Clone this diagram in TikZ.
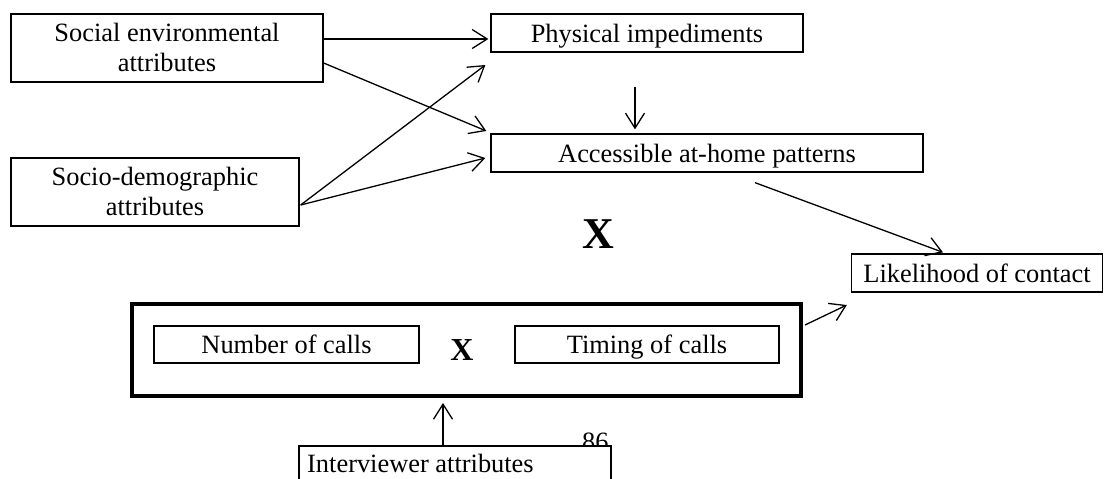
\documentclass[tikz,border=0pt]{standalone}
\usepackage{fontspec}
\setmainfont{Liberation Serif}
\usetikzlibrary{arrows.meta}
\begin{document}
\begin{tikzpicture}[x=1pt,y=-1pt,
  every node/.style={font=\fontsize{26.4}{30}\selectfont},
  box/.style={draw, line width=1.3pt, inner sep=0pt, fill=white},
  one/.style={box, text height=18pt, text depth=0pt},
  two/.style={box, align=center, text height=47pt, text depth=0pt},
  arr/.style={line width=1.3pt, -{Straight Barb[length=15pt,width=19pt,line width=1.3pt]}}
]
\clip (0,0) rectangle (1104,479);
\fill[white] (0,0) rectangle (1104,479);

% predictors
\node[two, minimum width=312pt, minimum height=68pt] (soc) at (167,48)
  {Social environmental\\attributes};
\node[two, minimum width=288pt, minimum height=68pt] (demo) at (155,192)
  {Socio-demographic\\attributes};

% intermediate outcomes
\node[one, minimum width=312pt, minimum height=38pt] (phys) at (647,33) {Physical impediments};
\node[one, minimum width=432pt, minimum height=38pt] (acc) at (707,153) {Accessible at-home patterns};

% outcome
\node[one, minimum width=251pt, minimum height=38pt] (lik) at (977,273) {Likelihood of contact};

% interaction symbol
\node[font=\fontsize{44}{50}\bfseries, anchor=base, inner sep=0pt] (xbig) at (598,248) {X};

% call pattern group
\node[draw, line width=4pt, inner sep=0pt, minimum width=669pt, minimum height=92pt] (calls) at (466.5,350) {};
\node[one, minimum width=265pt, minimum height=37pt] (num) at (286.5,344.5) {Number of calls};
\node[one, minimum width=264pt, minimum height=37pt] (tim) at (647,344.5) {Timing of calls};
\node[font=\fontsize{32}{36}\bfseries, anchor=base, inner sep=0pt] (xsmall) at (462,360) {X};

% page number, partly covered by the box below
\node[anchor=base west, inner sep=0pt] (page) at (582,450.5) {86};

% interviewer
\node[box, minimum width=312pt, minimum height=54pt] (intv) at (455,473) {};
\node[anchor=base west, inner sep=0pt] (intvtxt) at (307,472) {Interviewer attributes};

% connectors
\draw[arr] ([yshift=9pt]soc.east) -- ([xshift=-2pt,yshift=-6pt]phys.west);
\draw[arr] ([yshift=-15pt]soc.east) -- ([xshift=-4pt,yshift=22pt]acc.west);
\draw[arr] ([xshift=1pt,yshift=-13pt]demo.east) -- ([xshift=-5pt,yshift=-32pt]phys.west);
\draw[arr] ([xshift=1pt,yshift=-13pt]demo.east) -- ([xshift=-5pt,yshift=-5pt]acc.west);
\draw[arr] ([xshift=-12pt,yshift=-34pt]phys.south) -- ([xshift=-72pt,yshift=4pt]acc.north);
\draw[arr] ([xshift=48pt,yshift=-10pt]acc.south) -- ([xshift=-34pt,yshift=1pt]lik.north);
\draw[arr] ([xshift=2pt,yshift=25pt]calls.east) -- ([xshift=-4pt,yshift=-32pt]lik.west);
\draw[arr] ([xshift=-12pt]intv.north) -- ([xshift=-23.5pt,yshift=-5pt]calls.south);
\end{tikzpicture}
\end{document}
